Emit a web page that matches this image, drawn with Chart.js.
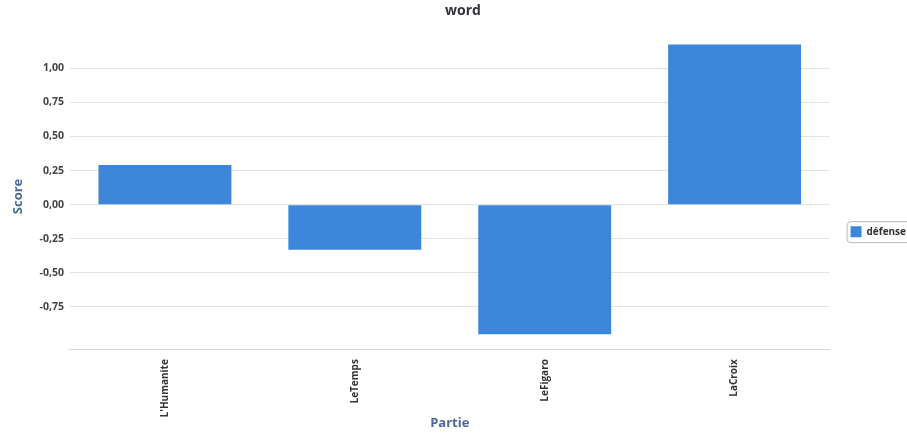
<!DOCTYPE html>
<html lang="fr">

<head>
  <meta charset="utf-8">
  <title>word</title>
  <style>
    html, body { margin: 0; padding: 0; overflow: hidden; background: #fff; }
    #wrap { width: 916px; height: 434px; }
  </style>
</head>

<body>
  <div id="wrap"><canvas id="myChart" width="916" height="434"></canvas></div>
  <script src="https://cdn.jsdelivr.net/npm/chart.js@4.4.0/dist/chart.umd.min.js"></script>
  <script>
    var categories = ["L'Humanite", 'LeTemps', 'LeFigaro', 'LaCroix'];
    var seriesName = 'défense';
    var scores = [0.29, -0.33, -0.95, 1.175];
    var yTicks = [-0.75, -0.5, -0.25, 0, 0.25, 0.5, 0.75, 1];

    var font = "'Open Sans', 'DejaVu Sans', sans-serif";

    // cadre arrondi autour de la légende
    var legendFrame = {
      id: 'legendFrame',
      afterDraw: function (chart) {
        var lg = chart.legend;
        if (!lg || !lg.legendHitBoxes.length) return;
        var b = lg.legendHitBoxes[0];
        var c = chart.ctx;
        var x = b.left - 4, y = b.top - 5, w = b.width + 14, h = b.height + 10;
        c.save();
        c.strokeStyle = '#b8b8b8';
        c.lineWidth = 1;
        c.beginPath();
        c.roundRect(x + 0.5, y + 0.5, w, h, 4);
        c.stroke();
        c.restore();
      }
    };

    var ctx = document.getElementById('myChart').getContext('2d');
    var chart = new Chart(ctx, {
      type: 'bar',
      data: {
        labels: categories,
        datasets: [{
          label: seriesName,
          data: scores,
          backgroundColor: '#3d86d9',
          borderWidth: 0,
          categoryPercentage: 0.7,
          barPercentage: 1
        }]
      },
      plugins: [legendFrame],
      options: {
        responsive: false,
        animation: false,
        layout: { padding: { left: 10, right: 0, top: 0, bottom: 3 } },
        plugins: {
          title: {
            display: true,
            text: 'word',
            color: '#333340',
            font: { family: font, size: 14, weight: 'bold' },
            padding: { top: 3, bottom: 24 }
          },
          legend: {
            position: 'right',
            title: { display: true, text: '', padding: { top: 18, bottom: 0 } },
            labels: {
              boxWidth: 11,
              boxHeight: 11,
              padding: 21,
              color: '#333',
              font: { family: font, size: 10, weight: 'bold' }
            }
          },
          tooltip: { enabled: false }
        },
        scales: {
          x: {
            grid: { display: false, drawTicks: true },
            border: { color: '#d8d8d8' },
            ticks: {
              minRotation: 90,
              maxRotation: 90,
              padding: 2,
              color: '#333',
              font: { family: font, size: 10, weight: 'bold' }
            },
            title: {
              display: true,
              text: 'Partie',
              color: '#4d6a94',
              font: { family: font, size: 13, weight: 'bold' },
              padding: { top: -4, bottom: 0 }
            }
          },
          y: {
            min: -1.06,
            max: 1.18,
            afterBuildTicks: function (axis) {
              axis.ticks = yTicks.map(function (v) { return { value: v }; });
            },
            grid: { color: '#e2e2e2', drawTicks: false },
            border: { display: false },
            ticks: {
              padding: 6,
              color: '#444',
              font: { family: font, size: 10.5, weight: 'bold' },
              callback: function (v) { return v.toFixed(2).replace('.', ','); }
            },
            title: {
              display: true,
              text: 'Score',
              color: '#4d6a94',
              font: { family: font, size: 13, weight: 'bold' },
              padding: { top: 0, bottom: 8 }
            }
          }
        }
      }
    });
  </script>
</body>

</html>
